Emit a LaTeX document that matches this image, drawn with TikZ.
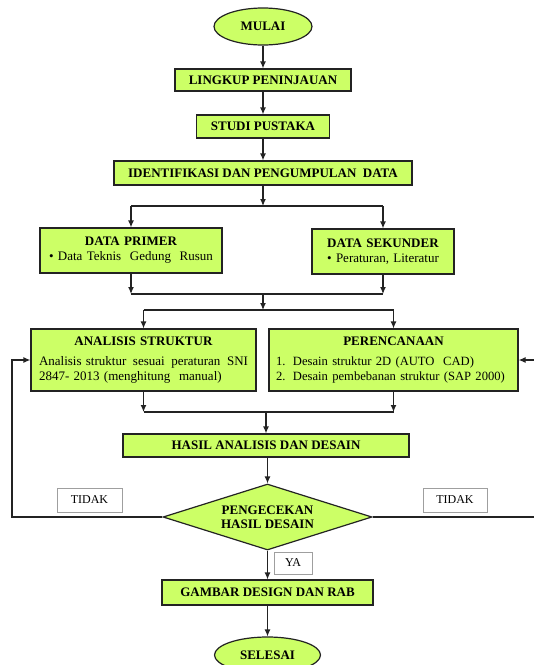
\documentclass[tikz,border=0pt]{standalone}
\usepackage{fontspec}
\setmainfont{Liberation Serif}
\usetikzlibrary{shapes.geometric,arrows.meta}
\definecolor{lime}{RGB}{204,255,102}
\definecolor{lineC}{RGB}{35,35,35}
\begin{document}
\begin{tikzpicture}[x=1pt,y=-1pt,
  every node/.style={font=\fontsize{13}{15}\selectfont},
  flowbox/.style={rectangle,draw=lineC,line width=1.2pt,fill=lime,inner sep=0pt,align=center},
  boldbox/.style={flowbox,font=\fontsize{13}{15}\selectfont\bfseries},
  term/.style={ellipse,draw=lineC,line width=1.2pt,fill=lime,inner sep=0pt,font=\fontsize{13}{15}\selectfont\bfseries},
  decision/.style={diamond,aspect=3.17,draw=lineC,line width=1.2pt,fill=lime,inner sep=0pt,align=center,font=\fontsize{13}{14}\selectfont\bfseries},
  tag/.style={rectangle,draw=gray!75,line width=0.9pt,fill=white,inner sep=0pt,font=\fontsize{12}{14}\selectfont},
  conn/.style={draw=lineC,line width=1.2pt},
  arr/.style={conn,-{Latex[length=7pt,width=6pt]}}]
\clip (0,0) rectangle (534,665);
\fill[white] (0,0) rectangle (534,665);

% nodes
\node[term,minimum width=98pt,minimum height=37pt] (mulai) at (263,26.5) {MULAI};
\node[boldbox,minimum width=176pt,minimum height=22pt] (lingkup) at (263,80) {LINGKUP PENINJAUAN};
\node[boldbox,minimum width=133pt,minimum height=23pt] (studi) at (263,126.5) {STUDI PUSTAKA};
\node[boldbox,minimum width=298pt,minimum height=24pt] (ident) at (263,173) {IDENTIFIKASI DAN PENGUMPULAN\ \ DATA};
\node[flowbox,minimum width=182pt,minimum height=45pt,text width=170pt] (primer) at (131,250.5)
  {\textbf{DATA PRIMER}\\ • Data Teknis\ \ Gedung\ \ Rusun};
\node[flowbox,minimum width=142pt,minimum height=45pt,text width=132pt] (sekunder) at (383,251.5)
  {\textbf{DATA SEKUNDER}\\ • Peraturan, Literatur};
\node[flowbox,align=left,minimum width=225pt,minimum height=62pt,text width=209pt] (analisis) at (143.5,360)
  {\makebox[209pt]{\textbf{ANALISIS STRUKTUR}}\\[5pt]
   Analisis struktur\hfill sesuai\hfill peraturan\hfill SNI\\
   2847- 2013 (menghitung\ \ manual)};
\node[flowbox,align=left,minimum width=249pt,minimum height=62pt,text width=235pt] (perencanaan) at (393.5,360)
  {\makebox[235pt]{\textbf{PERENCANAAN}}\\[5pt]
   \fontsize{12.6}{15}\selectfont
   \mbox{\makebox[17pt][l]{1.}Desain struktur 2D (AUTO\ \ CAD)}\\
   \mbox{\makebox[17pt][l]{2.}Desain pembebanan\ struktur (SAP 2000)}};
\node[boldbox,minimum width=286pt,minimum height=23pt] (hasil) at (266,445.5) {HASIL ANALISIS DAN DESAIN};
\node[decision,minimum width=209pt,minimum height=66pt] (cek) at (267.5,517) {PENGECEKAN\\HASIL DESAIN};
\node[tag,minimum width=65pt,minimum height=24pt] (tidakL) at (89.5,500) {TIDAK};
\node[tag,minimum width=64pt,minimum height=24pt] (tidakR) at (455,500) {TIDAK};
\node[tag,minimum width=38pt,minimum height=22pt] (ya) at (293,563) {YA};
\node[boldbox,minimum width=211pt,minimum height=25pt] (gambar) at (267.5,592.5) {GAMBAR DESIGN DAN RAB};
\node[term,minimum width=106pt,minimum height=36pt] (selesai) at (267.5,655) {SELESAI};

% junction coordinates
\coordinate (s0) at (263,206);
\coordinate (sL) at (131,206);
\coordinate (sR) at (383,206);
\coordinate (jaL) at (131,294);
\coordinate (jaR) at (383,294);
\coordinate (jaC) at (263,294);
\coordinate (jbC) at (263,310);
\coordinate (jbL) at (143.5,310);
\coordinate (jbR) at (393.5,310);
\coordinate (jcL) at (143.5,412);
\coordinate (jcR) at (393.5,412);
\coordinate (jcC) at (266,412);
\coordinate (lp) at (12,517);
\coordinate (rp) at (545,517);

% connectors
\draw[arr] (mulai) -- (lingkup);
\draw[arr] (lingkup) -- (studi);
\draw[arr] (studi) -- (ident);
\draw[arr] (ident) -- (s0);
\draw[conn] (sL) -- (sR);
\draw[arr] (sL) -- (primer);
\draw[arr] (sR) -- (sekunder);
\draw[arr] (primer) -- (jaL);
\draw[arr] (sekunder) -- (jaR);
\draw[conn] (jaL) -- (jaR);
\draw[arr] (jaC) -- (jbC);
\draw[conn] (jbL) -- (jbR);
\draw[arr] (jbL) -- (analisis);
\draw[arr] (jbR) -- (perencanaan);
\draw[arr] (analisis) -- (jcL);
\draw[arr] (perencanaan) -- (jcR);
\draw[conn] (jcL) -- (jcR);
\draw[arr] (jcC) -- (hasil);
\draw[arr] (cek.north |- hasil.south) -- (cek.north);
\draw[arr] (cek.west) -- (lp) |- (analisis.west);
\draw[arr] (cek.east) -- (rp) |- (perencanaan.east);
\draw[arr] (cek.south) -- (gambar.north);
\draw[arr] (gambar.south) -- (selesai.north);
\end{tikzpicture}
\end{document}
